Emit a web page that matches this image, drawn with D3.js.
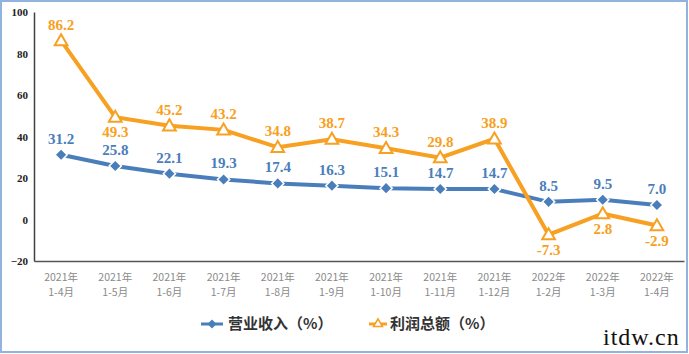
<!DOCTYPE html>
<html><head><meta charset="utf-8">
<script src="https://cdn.jsdelivr.net/npm/d3@7"></script>
<style>html,body{margin:0;padding:0;background:#fff;}svg{display:block;}</style>
</head><body>
<svg id="c" width="689" height="354"></svg>
<script>
const yearLabels = ["2021年","2021年","2021年","2021年","2021年","2021年","2021年","2021年","2021年","2022年","2022年","2022年"];
const monthLabels = ["1-4月","1-5月","1-6月","1-7月","1-8月","1-9月","1-10月","1-11月","1-12月","1-2月","1-3月","1-4月"];
const revenue = [31.2,25.8,22.1,19.3,17.4,16.3,15.1,14.7,14.7,8.5,9.5,7.0];
const profit = [86.2,49.3,45.2,43.2,34.8,38.7,34.3,29.8,38.9,-7.3,2.8,-2.9];
const profitLabelBelow = [false,true,false,false,false,false,false,false,false,true,true,true];
const yTicks = [-20,0,20,40,60,80,100];
const seriesNames = ["营业收入（%）","利润总额（%）"];

const blue = "#4a7ebb", orange = "#f7a021";
const svg = d3.select("#c");
const idx = d3.range(revenue.length);
const x = d3.scaleBand().domain(idx).range([34, 684]);
const cx = i => x(i) + x.bandwidth()/2;
const y = d3.scaleLinear().domain([-20,100]).range([261, 12]);

// frame
svg.append("rect").attr("x",1).attr("y",1).attr("width",686).attr("height",351)
  .attr("fill","none").attr("stroke","#93b3df").attr("stroke-width",2);

// y axis
const yAxis = d3.axisLeft(y).tickValues(yTicks).tickSize(0).tickPadding(6);
const gy = svg.append("g").attr("transform","translate(34,0)").call(yAxis);
gy.select(".domain").attr("stroke","#404040").attr("stroke-width",1.5);
gy.selectAll("text").attr("font-family","'Liberation Serif',serif").attr("font-weight","bold")
  .attr("font-size",11).attr("fill","#222");

// x axis
const xAxis = d3.axisBottom(x).tickSize(0).tickFormat(() => "");
const gx = svg.append("g").attr("transform","translate(0,261)").call(xAxis);
gx.select(".domain").attr("stroke","#555").attr("stroke-width",1.5);
const xl = svg.append("g");
idx.forEach(i => {
  const t = xl.append("text").attr("x",cx(i)).attr("text-anchor","middle")
    .attr("font-family","'Noto Sans CJK SC',sans-serif").attr("font-size",10.5).attr("fill","#8a8a8a");
  t.append("tspan").attr("x",cx(i)).attr("y",281).text(yearLabels[i]);
  t.append("tspan").attr("x",cx(i)).attr("y",296).text(monthLabels[i]);
});

const line = d3.line().x((d,i)=>cx(i)).y(d=>y(d));

// revenue
svg.append("path").datum(revenue).attr("d",line).attr("fill","none")
  .attr("stroke",blue).attr("stroke-width",4);
svg.selectAll(".rm").data(revenue).join("path")
  .attr("transform",(d,i)=>`translate(${cx(i)},${y(d)}) rotate(45)`)
  .attr("d", d3.symbol().type(d3.symbolSquare).size(75))
  .attr("fill",blue).attr("stroke","#fff").attr("stroke-width",1.5);
svg.selectAll(".rl").data(revenue).join("text")
  .attr("x",(d,i)=>cx(i)).attr("y",d=>y(d)-11).attr("text-anchor","middle")
  .attr("font-family","'Liberation Serif',serif").attr("font-weight","bold").attr("font-size",15)
  .attr("fill",blue).text(d=>d.toFixed(1));

// profit
svg.append("path").datum(profit).attr("d",line).attr("fill","none")
  .attr("stroke",orange).attr("stroke-width",4);
svg.selectAll(".pm").data(profit).join("path")
  .attr("transform",(d,i)=>`translate(${cx(i)},${y(d)+1})`)
  .attr("d", d3.symbol().type(d3.symbolTriangle).size(70))
  .attr("fill","#fff").attr("stroke",orange).attr("stroke-width",2);
svg.selectAll(".pl").data(profit).join("text")
  .attr("x",(d,i)=>cx(i)).attr("y",(d,i)=>profitLabelBelow[i] ? y(d)+20 : y(d)-11)
  .attr("text-anchor","middle")
  .attr("font-family","'Liberation Serif',serif").attr("font-weight","bold").attr("font-size",15)
  .attr("fill",orange).text(d=>d.toFixed(1));

// legend
const lg = svg.append("g");
lg.append("line").attr("x1",201).attr("x2",223).attr("y1",324).attr("y2",324).attr("stroke",blue).attr("stroke-width",3);
lg.append("path").attr("transform","translate(212,324) rotate(45)").attr("d",d3.symbol().type(d3.symbolSquare).size(40)).attr("fill",blue);
lg.append("text").attr("x",228).attr("y",329).attr("font-family","'Noto Sans CJK SC',sans-serif").attr("font-weight","bold")
  .attr("font-size",15).attr("fill","#333").text(seriesNames[0]);
lg.append("line").attr("x1",369).attr("x2",387).attr("y1",324).attr("y2",324).attr("stroke",orange).attr("stroke-width",3);
lg.append("path").attr("transform","translate(378,324)").attr("d",d3.symbol().type(d3.symbolTriangle).size(35)).attr("fill","#fff").attr("stroke",orange).attr("stroke-width",1.5);
lg.append("text").attr("x",390).attr("y",329).attr("font-family","'Noto Sans CJK SC',sans-serif").attr("font-weight","bold")
  .attr("font-size",15).attr("fill","#333").text(seriesNames[1]);

// watermark
svg.append("text").attr("x",603).attr("y",345).attr("font-family","'Liberation Serif',serif")
  .attr("font-size",24).attr("fill","#111").attr("letter-spacing",1).text("itdw.cn");
</script>
</body></html>
